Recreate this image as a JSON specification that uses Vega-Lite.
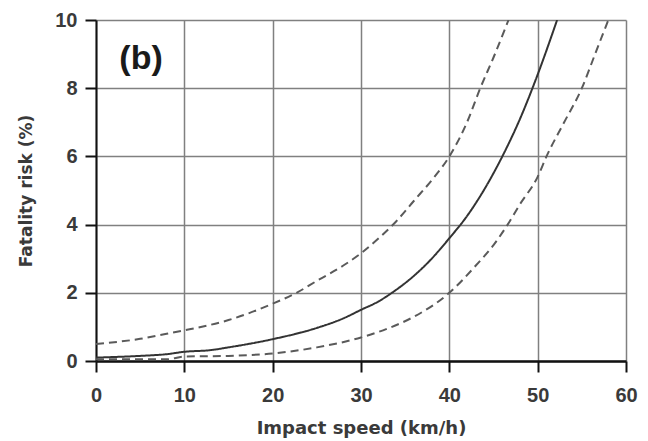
{
  "$schema": "https://vega.github.io/schema/vega-lite/v6.json",
  "width": 530,
  "height": 341,
  "autosize": "none",
  "padding": {"left": 96, "top": 20, "right": 22, "bottom": 80},
  "background": "#ffffff",
  "config": {
    "view": {"stroke": null},
    "font": "Liberation Sans"
  },
  "datasets": {
    "curves": [
      {"speed": 0, "risk": 0.1, "series": "estimate"},
      {"speed": 5, "risk": 0.15, "series": "estimate"},
      {"speed": 8, "risk": 0.2, "series": "estimate"},
      {"speed": 10, "risk": 0.27, "series": "estimate"},
      {"speed": 13, "risk": 0.32, "series": "estimate"},
      {"speed": 15, "risk": 0.4, "series": "estimate"},
      {"speed": 20, "risk": 0.64, "series": "estimate"},
      {"speed": 25, "risk": 0.97, "series": "estimate"},
      {"speed": 28, "risk": 1.25, "series": "estimate"},
      {"speed": 30, "risk": 1.5, "series": "estimate"},
      {"speed": 32, "risk": 1.75, "series": "estimate"},
      {"speed": 33.5, "risk": 2.0, "series": "estimate"},
      {"speed": 36, "risk": 2.5, "series": "estimate"},
      {"speed": 38, "risk": 3.0, "series": "estimate"},
      {"speed": 40, "risk": 3.6, "series": "estimate"},
      {"speed": 42, "risk": 4.25, "series": "estimate"},
      {"speed": 44, "risk": 5.05, "series": "estimate"},
      {"speed": 46, "risk": 6.0, "series": "estimate"},
      {"speed": 48, "risk": 7.1, "series": "estimate"},
      {"speed": 50, "risk": 8.4, "series": "estimate"},
      {"speed": 52.2, "risk": 10, "series": "estimate"},
      {"speed": 0, "risk": 0.5, "series": "upper"},
      {"speed": 5, "risk": 0.65, "series": "upper"},
      {"speed": 8, "risk": 0.8, "series": "upper"},
      {"speed": 10, "risk": 0.9, "series": "upper"},
      {"speed": 15, "risk": 1.2, "series": "upper"},
      {"speed": 20, "risk": 1.68, "series": "upper"},
      {"speed": 22.7, "risk": 2.0, "series": "upper"},
      {"speed": 25, "risk": 2.35, "series": "upper"},
      {"speed": 28, "risk": 2.8, "series": "upper"},
      {"speed": 30, "risk": 3.16, "series": "upper"},
      {"speed": 32, "risk": 3.6, "series": "upper"},
      {"speed": 34, "risk": 4.1, "series": "upper"},
      {"speed": 36, "risk": 4.7, "series": "upper"},
      {"speed": 38, "risk": 5.3, "series": "upper"},
      {"speed": 40, "risk": 6.0, "series": "upper"},
      {"speed": 42, "risk": 7.0, "series": "upper"},
      {"speed": 43.5, "risk": 8.0, "series": "upper"},
      {"speed": 45, "risk": 8.9, "series": "upper"},
      {"speed": 46.7, "risk": 10, "series": "upper"},
      {"speed": 0, "risk": 0.05, "series": "lower"},
      {"speed": 5, "risk": 0.05, "series": "lower"},
      {"speed": 8, "risk": 0.05, "series": "lower"},
      {"speed": 10, "risk": 0.13, "series": "lower"},
      {"speed": 15, "risk": 0.15, "series": "lower"},
      {"speed": 20, "risk": 0.22, "series": "lower"},
      {"speed": 25, "risk": 0.4, "series": "lower"},
      {"speed": 30, "risk": 0.69, "series": "lower"},
      {"speed": 33, "risk": 0.95, "series": "lower"},
      {"speed": 36, "risk": 1.3, "series": "lower"},
      {"speed": 40, "risk": 2.0, "series": "lower"},
      {"speed": 43, "risk": 2.8, "series": "lower"},
      {"speed": 45, "risk": 3.4, "series": "lower"},
      {"speed": 46.6, "risk": 4.0, "series": "lower"},
      {"speed": 48, "risk": 4.6, "series": "lower"},
      {"speed": 50, "risk": 5.4, "series": "lower"},
      {"speed": 51, "risk": 6.0, "series": "lower"},
      {"speed": 53, "risk": 7.0, "series": "lower"},
      {"speed": 55, "risk": 8.0, "series": "lower"},
      {"speed": 56.5, "risk": 9.0, "series": "lower"},
      {"speed": 58, "risk": 10, "series": "lower"}
    ],
    "label": [{"speed": 5.1, "risk": 8.85, "text": "(b)"}]
  },
  "layer": [
    {
      "data": {"name": "curves"},
      "mark": {"type": "line", "strokeWidth": 2, "clip": true, "interpolate": "monotone"},
      "encoding": {
        "x": {
          "field": "speed", "type": "quantitative",
          "scale": {"domain": [0, 60], "nice": false, "zero": false},
          "axis": {
            "title": "Impact speed (km/h)",
            "values": [0, 10, 20, 30, 40, 50, 60],
            "grid": true, "gridColor": "#808080", "gridWidth": 1.5, "gridOpacity": 1,
            "domainColor": "#111111", "domainWidth": 2.5,
            "tickColor": "#111111", "tickWidth": 2, "tickSize": 11,
            "labelFont": "Liberation Sans", "labelFontWeight": "bold", "labelFontSize": 20,
            "labelColor": "#3a3a3a", "labelPadding": 13, "labelFlush": false,
            "titleFont": "DejaVu Sans", "titleFontWeight": "bold", "titleFontSize": 18,
            "titleColor": "#3a3a3a", "titleY": 67, "titleBaseline": "middle"
          }
        },
        "y": {
          "field": "risk", "type": "quantitative",
          "scale": {"domain": [0, 10], "nice": false},
          "axis": {
            "title": "Fatality risk (%)",
            "values": [0, 2, 4, 6, 8, 10],
            "grid": true, "gridColor": "#808080", "gridWidth": 1.5, "gridOpacity": 1,
            "domainColor": "#111111", "domainWidth": 2,
            "tickColor": "#111111", "tickWidth": 2, "tickSize": 11,
            "labelFont": "Liberation Sans", "labelFontWeight": "bold", "labelFontSize": 20,
            "labelColor": "#3a3a3a", "labelPadding": 8, "labelFlush": false,
            "titleFont": "DejaVu Sans", "titleFontWeight": "bold", "titleFontSize": 17,
            "titleColor": "#3a3a3a", "titleX": -70, "titleBaseline": "middle"
          }
        },
        "detail": {"field": "series"},
        "color": {
          "field": "series", "type": "nominal",
          "scale": {"domain": ["estimate", "upper", "lower"], "range": ["#333333", "#5a5a5a", "#5a5a5a"]},
          "legend": null
        },
        "strokeDash": {
          "field": "series", "type": "nominal",
          "scale": {"domain": ["estimate", "upper", "lower"], "range": [[1, 0], [8, 5], [8, 5]]},
          "legend": null
        }
      }
    },
    {
      "data": {"name": "label"},
      "mark": {"type": "text", "font": "Liberation Sans", "fontWeight": "bold", "fontSize": 34, "color": "#1a1a1a", "align": "center", "baseline": "middle"},
      "encoding": {
        "x": {"field": "speed", "type": "quantitative"},
        "y": {"field": "risk", "type": "quantitative"},
        "text": {"field": "text"}
      }
    }
  ]
}
